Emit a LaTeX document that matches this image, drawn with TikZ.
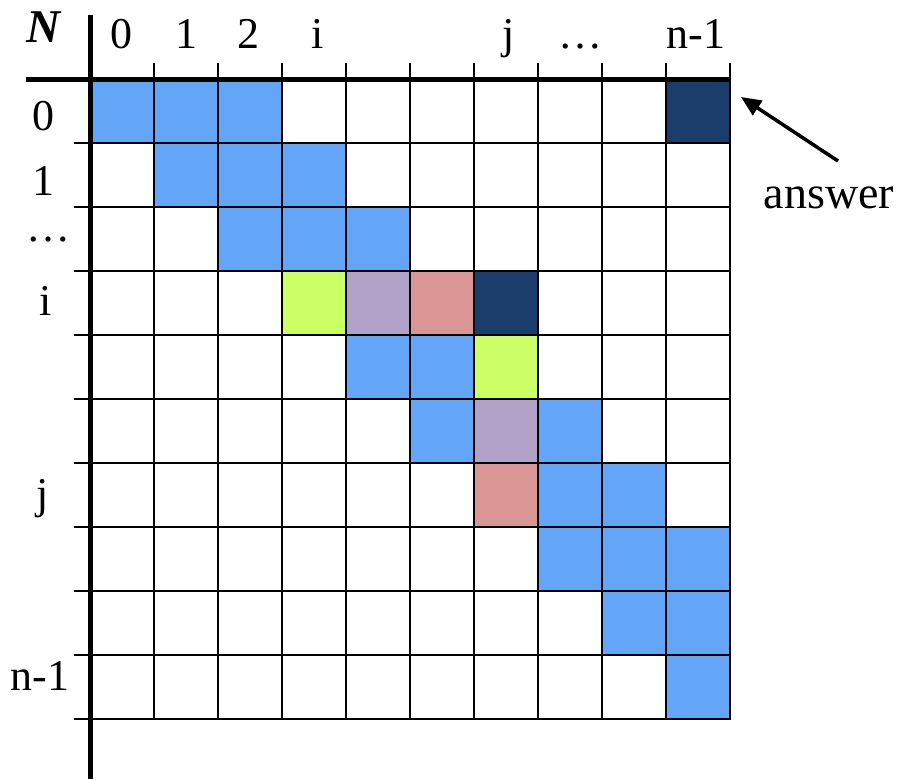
\documentclass[tikz,border=0pt]{standalone}
\usepackage{fontspec}
\setmainfont{Liberation Serif}
\usetikzlibrary{arrows.meta}
\definecolor{cblue}{HTML}{63A6F7}
\definecolor{cnavy}{HTML}{1B3D6C}
\definecolor{cgreen}{HTML}{CCFF66}
\definecolor{clav}{HTML}{B3A2C7}
\definecolor{cpink}{HTML}{D99694}
\tikzset{
  cellbox/.style={line width=2.3pt, draw=black},
  gridline/.style={line width=2.3pt, black},
  axisline/.style={line width=5pt, black},
  lbl/.style={anchor=base, inner sep=0pt, font=\fontsize{44}{50}\selectfont},
  ptr/.style={line width=3.5pt, -{Triangle[length=20pt,width=17pt]}}
}
\begin{document}
\begin{tikzpicture}[x=1pt,y=-1pt]
\useasboundingbox (0,0) rectangle (902,779);
% coloured cells (col/row/colour)
\foreach \c/\r/\col in {0/0/cblue,1/0/cblue,2/0/cblue,9/0/cnavy,
  1/1/cblue,2/1/cblue,3/1/cblue,
  2/2/cblue,3/2/cblue,4/2/cblue,
  3/3/cgreen,4/3/clav,5/3/cpink,6/3/cnavy,
  4/4/cblue,5/4/cblue,6/4/cgreen,
  5/5/cblue,6/5/clav,7/5/cblue,
  6/6/cpink,7/6/cblue,8/6/cblue,
  7/7/cblue,8/7/cblue,9/7/cblue,
  8/8/cblue,9/8/cblue,
  9/9/cblue}
  \filldraw[cellbox, fill=\col] ({90+64*\c},{79+64*\r}) rectangle ++(64,64);
% grid lines
\foreach \i in {1,...,10}
  \draw[gridline] ({90+64*\i},63) -- ({90+64*\i},719);
\foreach \j in {1,...,10}
  \draw[gridline] (74,{79+64*\j}) -- (730,{79+64*\j});
% axes
\draw[axisline] (90,15) -- (90,779);
\draw[axisline] (26,79) -- (730,79);
% corner label
\node[anchor=base, inner sep=0pt, font=\fontsize{47}{52}\selectfont\bfseries\itshape] (N) at (43,42) {N};
% column labels
\node[lbl] (c0) at (121,48) {0};
\node[lbl] (c1) at (186,48) {1};
\node[lbl] (c2) at (248,48) {2};
\node[lbl] (ci) at (318,48) {i};
\node[lbl] (cj) at (509,48) {j};
\node[lbl] (cd) at (580,48) {…};
\node[lbl] (cn) at (696,48) {n-1};
% row labels
\node[lbl] (r0) at (43,130) {0};
\node[lbl] (r1) at (43,195) {1};
\node[lbl] (rd) at (48,241) {…};
\node[lbl] (ri) at (46,315) {i};
\node[lbl] (rj) at (43,508) {j};
\node[lbl] (rn) at (40,690) {n-1};
% answer pointer
\node[anchor=base, inner sep=0pt, font=\fontsize{46}{52}\selectfont] (ans) at (829,208) {answer};
\coordinate (arrS) at (838,161);
\coordinate (arrE) at (741,97);
\draw[ptr] (arrS) -- (arrE);
\end{tikzpicture}
\end{document}
